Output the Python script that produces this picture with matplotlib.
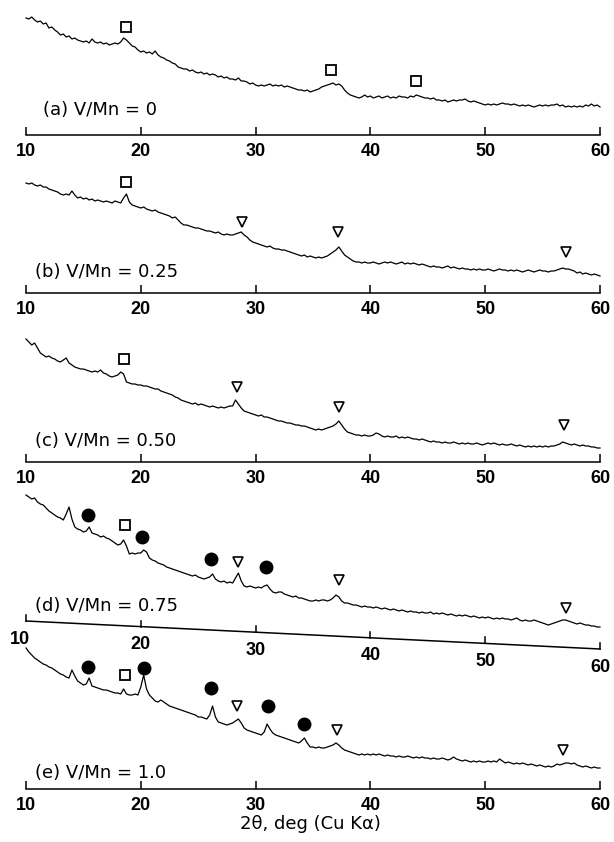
import numpy as np
import matplotlib
matplotlib.use("Agg")
import matplotlib.pyplot as plt

# ---------------- data (intensity in arbitrary units) -------------
two_theta = np.linspace(10, 60, 201)   # 0.25 deg sampling

I_a = [117, 116, 118, 115, 113, 114, 111, 112,
       107, 108, 105, 103, 100, 101, 98, 99,
       96, 97, 95, 94, 93, 94, 92, 96,
       93, 92, 93, 91, 92, 90, 91, 92,
       91, 93, 97, 95, 92, 89, 88, 85,
       83, 84, 82, 83, 81, 84, 80, 78,
       77, 75, 74, 72, 71, 68, 67, 66,
       66, 64, 65, 63, 62, 63, 61, 62,
       60, 61, 60, 58, 59, 57, 58, 56,
       56, 55, 57, 54, 54, 53, 51, 52,
       50, 49, 50, 49, 50, 51, 49, 50,
       49, 50, 48, 49, 48, 47, 46, 45,
       45, 44, 45, 43, 44, 45, 46, 48,
       49, 50, 51, 52, 50, 51, 49, 45,
       42, 40, 39, 38, 37, 38, 40, 38,
       39, 37, 38, 39, 37, 38, 39, 37,
       38, 37, 39, 38, 38, 37, 39, 38,
       40, 39, 38, 37, 37, 36, 37, 35,
       35, 34, 35, 33, 34, 35, 34, 35,
       35, 36, 34, 33, 34, 33, 32, 31,
       30, 31, 30, 31, 30, 31, 32, 31,
       31, 30, 31, 30, 29, 30, 29, 30,
       29, 28, 29, 30, 29, 30, 29, 30,
       30, 31, 29, 30, 28, 29, 28, 29,
       28, 29, 28, 30, 29, 31, 29, 30,
       28]

I_b = [110, 109, 110, 108, 107, 108, 106, 106,
       104, 103, 102, 101, 99, 98, 99, 98,
       102, 98, 95, 96, 94, 95, 93, 94,
       92, 93, 92, 91, 92, 91, 90, 92,
       91, 90, 95, 99, 91, 88, 87, 86,
       85, 86, 84, 83, 82, 83, 81, 80,
       79, 78, 77, 75, 76, 73, 70, 68,
       68, 67, 66, 65, 65, 64, 63, 62,
       62, 61, 60, 61, 59, 58, 59, 58,
       58, 59, 60, 61, 58, 56, 53, 51,
       50, 49, 48, 47, 46, 47, 45, 44,
       44, 43, 43, 42, 41, 40, 39, 38,
       37, 38, 36, 37, 36, 35, 36, 35,
       36, 37, 39, 41, 43, 46, 42, 38,
       36, 34, 32, 31, 31, 30, 31, 30,
       30, 31, 30, 29, 30, 31, 30, 31,
       30, 29, 30, 31, 29, 30, 29, 30,
       29, 28, 29, 28, 27, 26, 27, 26,
       26, 25, 26, 27, 25, 26, 25, 24,
       25, 24, 24, 23, 24, 23, 24, 23,
       23, 24, 23, 22, 23, 24, 23, 23,
       22, 23, 22, 23, 22, 21, 22, 23,
       22, 21, 22, 23, 22, 22, 21, 22,
       22, 23, 24, 25, 24, 24, 23, 22,
       20, 21, 19, 20, 19, 18, 19, 18,
       17]

I_c = [123, 120, 117, 119, 114, 109, 107, 105,
       106, 104, 103, 101, 100, 102, 104, 99,
       97, 95, 94, 93, 93, 92, 91, 90,
       91, 90, 92, 89, 88, 86, 85, 86,
       87, 90, 88, 80, 79, 78, 78, 77,
       77, 76, 76, 75, 74, 73, 73, 71,
       70, 69, 68, 67, 65, 64, 62, 61,
       60, 59, 58, 59, 57, 58, 57, 56,
       55, 56, 55, 54, 55, 54, 55, 56,
       56, 62, 58, 54, 51, 50, 49, 48,
       47, 46, 47, 45, 45, 44, 43, 42,
       41, 41, 40, 39, 39, 38, 37, 37,
       36, 36, 35, 34, 33, 32, 33, 32,
       33, 34, 35, 36, 38, 41, 37, 33,
       30, 29, 28, 27, 27, 26, 27, 26,
       26, 27, 29, 28, 26, 25, 26, 25,
       25, 26, 24, 25, 24, 25, 24, 23,
       23, 22, 23, 22, 21, 20, 21, 20,
       20, 19, 20, 19, 19, 20, 19, 18,
       19, 18, 19, 18, 18, 19, 18, 17,
       18, 19, 18, 19, 18, 17, 18, 17,
       17, 18, 17, 16, 17, 16, 15, 16,
       15, 16, 15, 16, 15, 16, 15, 16,
       16, 17, 18, 20, 19, 18, 17, 18,
       17, 16, 17, 16, 16, 15, 15, 14,
       14]

I_d = [154, 152, 150, 151, 147, 145, 144, 141,
       138, 136, 134, 132, 131, 129, 135, 142,
       130, 122, 120, 119, 117, 118, 122, 116,
       115, 114, 112, 113, 111, 110, 108, 106,
       104, 105, 109, 103, 95, 96, 95, 96,
       96, 99, 97, 91, 89, 88, 86, 85,
       84, 82, 81, 80, 79, 78, 77, 76,
       75, 74, 73, 74, 72, 71, 70, 71,
       72, 75, 70, 68, 67, 68, 66, 67,
       66, 71, 76, 68, 63, 62, 63, 62,
       61, 62, 61, 63, 64, 60, 57, 56,
       57, 57, 55, 54, 53, 52, 53, 51,
       51, 50, 49, 48, 48, 49, 48, 49,
       49, 48, 49, 51, 54, 52, 48, 46,
       46, 45, 44, 44, 43, 42, 43, 42,
       42, 41, 42, 41, 40, 41, 40, 39,
       40, 39, 38, 39, 38, 37, 38, 37,
       37, 36, 37, 36, 36, 37, 35, 36,
       35, 36, 35, 34, 35, 34, 33, 34,
       33, 34, 33, 32, 33, 32, 31, 32,
       31, 32, 31, 30, 31, 30, 31, 30,
       30, 29, 30, 31, 29, 28, 29, 28,
       28, 29, 28, 27, 26, 25, 24, 25,
       26, 27, 28, 29, 29, 28, 27, 26,
       25, 26, 25, 24, 24, 23, 23, 22,
       22]

I_e = [141, 137, 134, 131, 129, 127, 125, 124,
       122, 121, 119, 117, 115, 114, 112, 111,
       119, 113, 108, 106, 104, 105, 111, 103,
       102, 101, 100, 99, 99, 98, 97, 96,
       96, 95, 100, 95, 94, 94, 95, 94,
       102, 114, 100, 94, 91, 88, 87, 89,
       87, 85, 83, 82, 81, 80, 79, 78,
       77, 76, 75, 74, 72, 72, 71, 70,
       74, 83, 72, 67, 66, 65, 64, 65,
       66, 68, 70, 66, 61, 59, 58, 57,
       56, 55, 54, 57, 65, 60, 56, 54,
       53, 52, 51, 50, 49, 48, 47, 46,
       48, 51, 46, 42, 42, 41, 42, 41,
       41, 42, 43, 44, 46, 44, 41, 39,
       38, 37, 36, 35, 34, 35, 34, 35,
       34, 35, 34, 35, 34, 33, 34, 33,
       33, 32, 33, 32, 32, 33, 32, 31,
       32, 31, 32, 31, 31, 30, 31, 30,
       30, 31, 30, 29, 30, 32, 30, 29,
       28, 29, 28, 27, 28, 27, 28, 27,
       27, 28, 27, 28, 27, 30, 28, 26,
       27, 26, 25, 26, 25, 26, 25, 24,
       25, 24, 23, 24, 23, 22, 23, 22,
       23, 25, 24, 25, 26, 26, 25, 26,
       24, 23, 22, 23, 22, 21, 22, 21,
       21]

# phase markers: (2theta, intensity)
sq_a = [(18.7, 108), (36.6, 65), (44.0, 54)]
sq_b = [(18.7, 111)]
tri_b = [(28.8, 71), (37.2, 61), (57.0, 41)]
sq_c = [(18.5, 103)]
tri_c = [(28.4, 75), (37.3, 55), (56.9, 37)]
dot_d = [(15.4, 134), (20.1, 112), (26.1, 90), (30.9, 82)]
sq_d = [(18.6, 124)]
tri_d = [(28.5, 87), (37.3, 69), (57.0, 41)]
dot_e = [(15.4, 122), (20.3, 121), (26.1, 101), (31.1, 83), (34.2, 65)]
sq_e = [(18.6, 114)]
tri_e = [(28.4, 83), (37.1, 59), (56.8, 39)]

panel_labels = ["(a) V/Mn = 0", "(b) V/Mn = 0.25", "(c) V/Mn = 0.50",
                "(d) V/Mn = 0.75", "(e) V/Mn = 1.0"]
xticks = [10, 20, 30, 40, 50, 60]
xlabel = "2\u03b8, deg (Cu K\u03b1)"

# ---------------- layout -------------
W, H = 614, 842
fig = plt.figure(figsize=(W / 100, H / 100), dpi=100)
fig.patch.set_facecolor("white")
LEFT, RIGHT = 26, 600

panels = [
    dict(I=I_a, bottom=135, height=125, sq=sq_a, tri=[], dot=[], lx=11.5, ly=25),
    dict(I=I_b, bottom=293, height=118, sq=sq_b, tri=tri_b, dot=[], lx=10.8, ly=21),
    dict(I=I_c, bottom=462, height=132, sq=sq_c, tri=tri_c, dot=[], lx=10.8, ly=21),
    dict(I=I_d, bottom=649, height=164, sq=sq_d, tri=tri_d, dot=dot_d, lx=10.8, ly=43),
    dict(I=I_e, bottom=789, height=144, sq=sq_e, tri=tri_e, dot=dot_e, lx=10.8, ly=16),
]

tick_font = dict(family="Liberation Sans", weight="bold", size=13)
label_font = dict(family="DejaVu Sans", size=13)

def scatter(ax, pts, **kw):
    if pts:
        xs = [p[0] for p in pts]
        ys = [p[1] for p in pts]
        ax.plot(xs, ys, linestyle="none", clip_on=False, **kw)

for i, p in enumerate(panels):
    ax = fig.add_axes([LEFT / W, 1 - p["bottom"] / H, (RIGHT - LEFT) / W, p["height"] / H])
    ax.patch.set_alpha(0)
    ax.set_xlim(10, 60)
    ax.set_ylim(0, p["height"])
    ax.plot(two_theta, p["I"], color="black", lw=0.9, clip_on=False)
    for s in ["top", "left", "right"]:
        ax.spines[s].set_visible(False)
    ax.set_yticks([])
    scatter(ax, p["sq"], marker="s", ms=7, mfc="white", mec="black", mew=1.3)
    scatter(ax, p["tri"], marker="v", ms=7, mfc="white", mec="black", mew=1.2)
    scatter(ax, p["dot"], marker="o", ms=9, mfc="black", mec="black")
    ax.text(p["lx"], p["ly"], panel_labels[i], ha="left", va="center", **label_font)

    if i == 3:
        # the recorded axis of panel (d) is slightly tilted
        ax.spines["bottom"].set_visible(False)
        ax.set_xticks([])
        y0, y1 = 28, 0
        def tilt(x):
            return y0 + (y1 - y0) * (x - 10) / 50.0
        ax.plot([10, 60], [tilt(10), tilt(60)], color="black", lw=1.1, clip_on=False)
        for t in xticks:
            ax.plot([t, t], [tilt(t), tilt(t) + 6], color="black", lw=1.1, clip_on=False)
            dx = -0.5 if t == 10 else 0
            ax.text(t + dx, tilt(t) - 18, str(t), ha="center", va="center", **tick_font)
    else:
        ax.spines["bottom"].set_linewidth(1.1)
        ax.set_xticks(xticks)
        ax.set_xticklabels([str(t) for t in xticks], **tick_font)
        ax.tick_params(axis="x", direction="in", length=6, width=1.1, pad=6)

fig.text(310 / W, 1 - 824 / H, xlabel, ha="center", va="center", **label_font)

fig.savefig("out.png", dpi=100, facecolor="white")
